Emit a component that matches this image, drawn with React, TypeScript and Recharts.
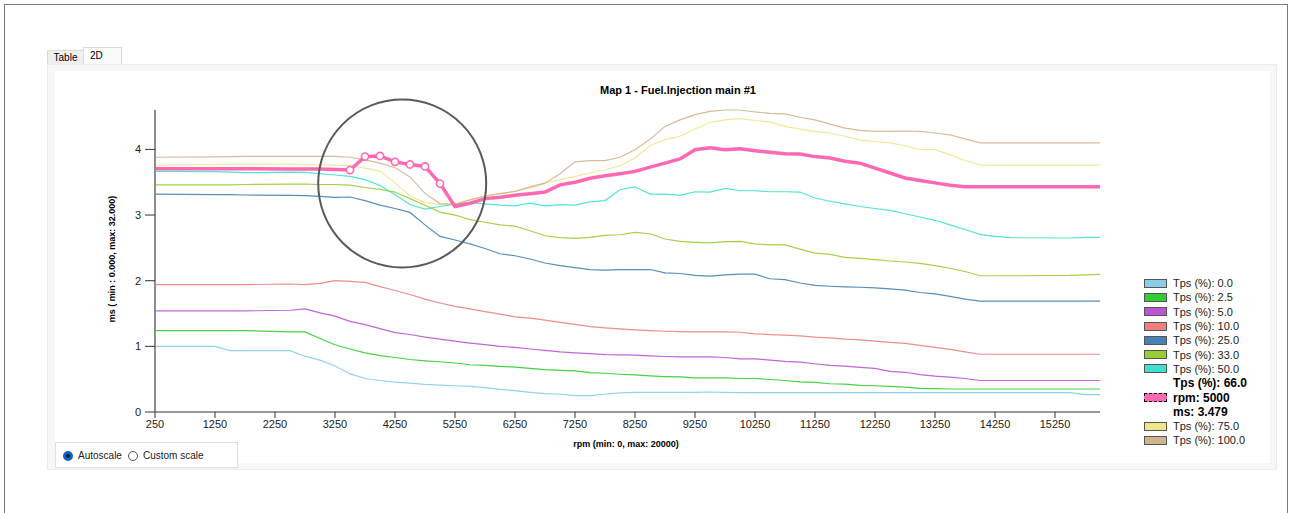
import React from 'react';
import { LineChart, Line, XAxis, YAxis, ReferenceDot } from 'recharts';

// rpm breakpoints
const rpm = [250, 1250, 1500, 1750, 2500, 2750, 3000, 3250, 3500, 3750, 4000, 4250, 4500, 4750, 5000, 5250, 5500, 5750, 6000, 6250, 6500, 6750, 7000, 7250, 7500, 7750, 8000, 8250, 8500, 8750, 9000, 9250, 9500, 9750, 10000, 10250, 10500, 10750, 11000, 11250, 11500, 11750, 12000, 12250, 12500, 12750, 13000, 13250, 13500, 13750, 14000, 14250, 14500, 15500, 15750, 16000];

const tps0 = [1.0, 1.0, 0.934, 0.934, 0.934, 0.85, 0.79, 0.70, 0.58, 0.51, 0.48, 0.455, 0.44, 0.42, 0.41, 0.40, 0.39, 0.37, 0.345, 0.325, 0.30, 0.28, 0.27, 0.25, 0.25, 0.27, 0.29, 0.30, 0.30, 0.30, 0.30, 0.30, 0.305, 0.30, 0.295, 0.295, 0.295, 0.295, 0.295, 0.295, 0.295, 0.295, 0.295, 0.295, 0.295, 0.295, 0.295, 0.295, 0.295, 0.295, 0.295, 0.295, 0.295, 0.295, 0.265, 0.265];
const tps2_5 = [1.24, 1.24, 1.24, 1.24, 1.22, 1.22, 1.12, 1.025, 0.96, 0.90, 0.86, 0.83, 0.80, 0.78, 0.765, 0.746, 0.72, 0.71, 0.695, 0.685, 0.665, 0.645, 0.635, 0.625, 0.60, 0.59, 0.575, 0.565, 0.55, 0.54, 0.535, 0.52, 0.52, 0.52, 0.51, 0.51, 0.495, 0.48, 0.46, 0.45, 0.43, 0.425, 0.405, 0.40, 0.39, 0.38, 0.36, 0.355, 0.35, 0.35, 0.35, 0.35, 0.35, 0.35, 0.35, 0.35];
const tps5 = [1.54, 1.54, 1.54, 1.54, 1.55, 1.57, 1.51, 1.46, 1.38, 1.33, 1.27, 1.21, 1.18, 1.14, 1.11, 1.08, 1.05, 1.025, 1.0, 0.985, 0.96, 0.94, 0.915, 0.90, 0.89, 0.875, 0.87, 0.865, 0.855, 0.845, 0.84, 0.84, 0.84, 0.83, 0.81, 0.81, 0.79, 0.77, 0.76, 0.735, 0.71, 0.70, 0.68, 0.665, 0.62, 0.605, 0.57, 0.545, 0.53, 0.51, 0.48, 0.48, 0.48, 0.48, 0.48, 0.48];
const tps10 = [1.94, 1.94, 1.94, 1.94, 1.95, 1.94, 1.96, 2.0, 1.99, 1.975, 1.91, 1.85, 1.79, 1.72, 1.66, 1.61, 1.57, 1.53, 1.49, 1.45, 1.43, 1.40, 1.365, 1.335, 1.30, 1.28, 1.265, 1.25, 1.24, 1.23, 1.225, 1.22, 1.22, 1.22, 1.215, 1.19, 1.18, 1.17, 1.16, 1.14, 1.13, 1.11, 1.10, 1.08, 1.06, 1.045, 1.015, 0.985, 0.955, 0.915, 0.88, 0.88, 0.88, 0.88, 0.88, 0.88];
const tps25 = [3.32, 3.31, 3.31, 3.305, 3.30, 3.295, 3.285, 3.27, 3.275, 3.22, 3.15, 3.10, 3.04, 2.85, 2.675, 2.62, 2.56, 2.49, 2.41, 2.38, 2.33, 2.27, 2.23, 2.20, 2.17, 2.16, 2.17, 2.17, 2.17, 2.12, 2.11, 2.08, 2.07, 2.09, 2.10, 2.10, 2.03, 2.015, 1.965, 1.93, 1.915, 1.905, 1.90, 1.89, 1.875, 1.855, 1.82, 1.80, 1.76, 1.72, 1.69, 1.69, 1.69, 1.69, 1.69, 1.69];
const tps33 = [3.46, 3.46, 3.46, 3.465, 3.47, 3.47, 3.465, 3.465, 3.455, 3.42, 3.39, 3.35, 3.25, 3.15, 3.045, 3.0, 2.93, 2.89, 2.85, 2.83, 2.76, 2.685, 2.655, 2.645, 2.66, 2.69, 2.70, 2.735, 2.715, 2.635, 2.60, 2.585, 2.575, 2.595, 2.60, 2.56, 2.545, 2.545, 2.48, 2.42, 2.40, 2.355, 2.34, 2.32, 2.30, 2.285, 2.265, 2.23, 2.19, 2.14, 2.075, 2.075, 2.075, 2.08, 2.09, 2.095];
const tps50 = [3.665, 3.66, 3.655, 3.645, 3.655, 3.65, 3.63, 3.61, 3.59, 3.54, 3.45, 3.31, 3.16, 3.09, 3.13, 3.165, 3.19, 3.17, 3.15, 3.14, 3.18, 3.14, 3.16, 3.15, 3.20, 3.22, 3.385, 3.43, 3.32, 3.32, 3.30, 3.355, 3.35, 3.405, 3.37, 3.37, 3.355, 3.355, 3.35, 3.26, 3.21, 3.17, 3.13, 3.10, 3.07, 3.02, 2.97, 2.92, 2.85, 2.78, 2.705, 2.675, 2.655, 2.65, 2.66, 2.66];
const tps66 = [3.705, 3.705, 3.705, 3.705, 3.70, 3.70, 3.70, 3.695, 3.685, 3.89, 3.90, 3.81, 3.77, 3.74, 3.479, 3.13, 3.18, 3.25, 3.27, 3.30, 3.325, 3.35, 3.46, 3.50, 3.56, 3.60, 3.63, 3.665, 3.73, 3.79, 3.855, 3.995, 4.025, 3.995, 4.01, 3.98, 3.955, 3.935, 3.93, 3.89, 3.87, 3.82, 3.79, 3.715, 3.64, 3.565, 3.525, 3.49, 3.455, 3.43, 3.43, 3.43, 3.43, 3.43, 3.43, 3.43];
const tps75 = [3.76, 3.77, 3.775, 3.775, 3.775, 3.77, 3.765, 3.76, 3.75, 3.715, 3.67, 3.49, 3.29, 3.19, 3.16, 3.18, 3.23, 3.28, 3.325, 3.355, 3.41, 3.485, 3.54, 3.59, 3.64, 3.69, 3.75, 3.87, 4.06, 4.15, 4.20, 4.31, 4.41, 4.45, 4.47, 4.44, 4.42, 4.35, 4.31, 4.27, 4.25, 4.20, 4.14, 4.12, 4.10, 4.055, 3.995, 3.995, 3.92, 3.83, 3.76, 3.76, 3.76, 3.76, 3.76, 3.76];
const tps100 = [3.88, 3.885, 3.89, 3.895, 3.895, 3.895, 3.895, 3.895, 3.88, 3.84, 3.79, 3.72, 3.58, 3.33, 3.175, 3.16, 3.23, 3.29, 3.325, 3.36, 3.43, 3.485, 3.63, 3.81, 3.83, 3.83, 3.88, 3.995, 4.155, 4.35, 4.45, 4.53, 4.58, 4.60, 4.60, 4.57, 4.55, 4.54, 4.49, 4.45, 4.385, 4.325, 4.29, 4.275, 4.275, 4.28, 4.275, 4.25, 4.22, 4.16, 4.10, 4.10, 4.10, 4.10, 4.10, 4.10];

const xTicks = [250, 1250, 2250, 3250, 4250, 5250, 6250, 7250, 8250, 9250, 10250, 11250, 12250, 13250, 14250, 15250];
const yTicks = [0, 1, 2, 3, 4];
const markedRpm = [3500, 3750, 4000, 4250, 4500, 4750, 5000];

const seriesLabels = ['Tps (%): 0.0', 'Tps (%): 2.5', 'Tps (%): 5.0', 'Tps (%): 10.0', 'Tps (%): 25.0', 'Tps (%): 33.0', 'Tps (%): 50.0', 'Tps (%): 66.0', 'Tps (%): 75.0', 'Tps (%): 100.0'];
const seriesValues = [tps0, tps2_5, tps5, tps10, tps25, tps33, tps50, tps66, tps75, tps100];
const seriesColors = ['#87CEEB', '#32CD32', '#BA55D3', '#F08080', '#4682B4', '#9ACD32', '#40E0D0', '#FF69B4', '#F0E68C', '#D2B48C'];

const data = rpm.map((r, i) => {
  const row: Record<string, number> = { rpm: r };
  seriesValues.forEach((vals, s) => {
    row['s' + s] = vals[i];
  });
  return row;
});

const FONT = '"Liberation Sans", Arial, sans-serif';

const PinkDot = (props: any) => {
  const { cx, cy, payload, index } = props;
  if (!payload || !markedRpm.includes(payload.rpm)) return <g key={'pd' + index} />;
  return <circle key={'pd' + index} cx={cx} cy={cy} r={3.6} fill="#ffffff" stroke="#FF69B4" strokeWidth={1.6} />;
};

const Swatch = ({ color, dashed }: { color: string; dashed?: boolean }) => (
  <div
    style={{
      width: 21,
      height: 7,
      background: color,
      border: dashed ? '1.5px dashed #000' : '1px solid #555',
      boxSizing: 'content-box',
      marginRight: 6,
      flexShrink: 0,
    }}
  />
);

export default function App() {
  const legendRows: React.ReactNode[] = [];
  seriesLabels.forEach((label, i) => {
    if (i === 7) {
      legendRows.push(
        <div key="b1" style={{ height: 14.3, display: 'flex', alignItems: 'center', paddingLeft: 29, fontWeight: 'bold', fontSize: 12 }}>
          {label}
        </div>
      );
      legendRows.push(
        <div key="b2" style={{ height: 14.3, display: 'flex', alignItems: 'center', fontWeight: 'bold', fontSize: 12 }}>
          <Swatch color={seriesColors[i]} dashed />
          <span>rpm: 5000</span>
        </div>
      );
      legendRows.push(
        <div key="b3" style={{ height: 14.3, display: 'flex', alignItems: 'center', paddingLeft: 29, fontWeight: 'bold', fontSize: 12 }}>
          ms: 3.479
        </div>
      );
    } else {
      legendRows.push(
        <div key={label} style={{ height: 14.3, display: 'flex', alignItems: 'center', fontSize: 11, color: '#222' }}>
          <Swatch color={seriesColors[i]} />
          <span>{label}</span>
        </div>
      );
    }
  });

  return (
    <div style={{ position: 'absolute', left: 0, top: 0, width: 1290, height: 513, background: '#ffffff', overflow: 'hidden', fontFamily: FONT, color: '#000' }}>
      {/* window frame */}
      <div style={{ position: 'absolute', left: 4, top: 4, width: 1284, height: 520, border: '1px solid #7a7a7a', boxSizing: 'border-box' }} />
      {/* tabs */}
      <div style={{ position: 'absolute', left: 47, top: 50, width: 37, height: 15, background: '#f0f0f0', border: '1px solid #d9d9d9', borderBottom: 'none', fontSize: 10, lineHeight: '14px', textAlign: 'center', boxSizing: 'border-box' }}>Table</div>
      <div style={{ position: 'absolute', left: 83, top: 47, width: 39, height: 19, background: '#fbfbfb', border: '1px solid #d9d9d9', borderBottom: 'none', fontSize: 10, lineHeight: '16px', paddingLeft: 6, boxSizing: 'border-box' }}>2D</div>
      {/* tab page */}
      <div style={{ position: 'absolute', left: 47, top: 64, width: 1230, height: 406, background: '#f7f7f7', border: '1px solid #ececec', boxSizing: 'border-box' }} />
      <div style={{ position: 'absolute', left: 55, top: 71, width: 1215, height: 392, background: '#ffffff' }} />

      {/* title */}
      <div style={{ position: 'absolute', left: 478, top: 84, width: 400, textAlign: 'center', fontWeight: 'bold', fontSize: 11 }}>Map 1 - Fuel.Injection main #1</div>
      {/* y label */}
      <div style={{ position: 'absolute', left: 112, top: 260, width: 0, height: 0 }}>
        <div style={{ position: 'absolute', left: -80, top: -6, width: 160, textAlign: 'center', transform: 'rotate(-90deg)', fontWeight: 'bold', fontSize: 9, whiteSpace: 'nowrap' }}>ms ( min : 0.000, max: 32.000)</div>
      </div>
      {/* x label */}
      <div style={{ position: 'absolute', left: 526, top: 439, width: 200, textAlign: 'center', fontWeight: 'bold', fontSize: 9 }}>rpm (min: 0, max: 20000)</div>

      <div style={{ position: 'absolute', left: 0, top: 0 }}>
        <LineChart width={1290} height={513} data={data} margin={{ top: 110, right: 190, bottom: 71, left: 115 }}>
          <XAxis
            dataKey="rpm"
            type="number"
            domain={[250, 16000]}
            ticks={xTicks}
            interval={0}
            height={30}
            stroke="#333"
            tickSize={6}
            tickMargin={2}
            tick={{ fill: '#222', fontSize: 11, fontFamily: FONT }}
          />
          <YAxis
            type="number"
            domain={[0, 4.6]}
            ticks={yTicks}
            width={40}
            stroke="#8c8c8c"
            strokeWidth={2}
            tickSize={10}
            tickMargin={4}
            tickLine={{ stroke: '#333', strokeWidth: 1 }}
            tick={{ fill: '#222', fontSize: 11, fontFamily: FONT }}
          />
          {seriesValues.map((_, s) =>
            s === 7 ? null : (
              <Line
                key={'l' + s}
                type="linear"
                dataKey={'s' + s}
                stroke={seriesColors[s]}
                strokeWidth={1.2}
                strokeOpacity={0.9}
                dot={false}
                activeDot={false}
                isAnimationActive={false}
              />
            )
          )}
          <Line
            key="pink"
            type="linear"
            dataKey="s7"
            stroke={seriesColors[7]}
            strokeWidth={3.5}
            dot={PinkDot}
            activeDot={false}
            isAnimationActive={false}
          />
          <ReferenceDot x={4370} y={3.48} r={84} fill="none" stroke="#5a5a5a" strokeWidth={2} ifOverflow="visible" />
        </LineChart>
      </div>

      {/* legend */}
      <div style={{ position: 'absolute', left: 1144, top: 276, width: 140 }}>{legendRows}</div>

      {/* scale options */}
      <div style={{ position: 'absolute', left: 55, top: 442, width: 183, height: 26, background: '#fff', border: '1px solid #e0e0e0', boxSizing: 'border-box', fontSize: 10, color: '#222' }}>
        <div style={{ position: 'absolute', left: 7, top: 8, width: 10, height: 10, borderRadius: '50%', border: '3px solid #0a64c8', boxSizing: 'border-box', background: '#1a1a1a' }} />
        <div style={{ position: 'absolute', left: 22, top: 7 }}>Autoscale</div>
        <div style={{ position: 'absolute', left: 72, top: 8, width: 10, height: 10, borderRadius: '50%', border: '1px solid #555', boxSizing: 'border-box' }} />
        <div style={{ position: 'absolute', left: 87, top: 7 }}>Custom scale</div>
      </div>
    </div>
  );
}
